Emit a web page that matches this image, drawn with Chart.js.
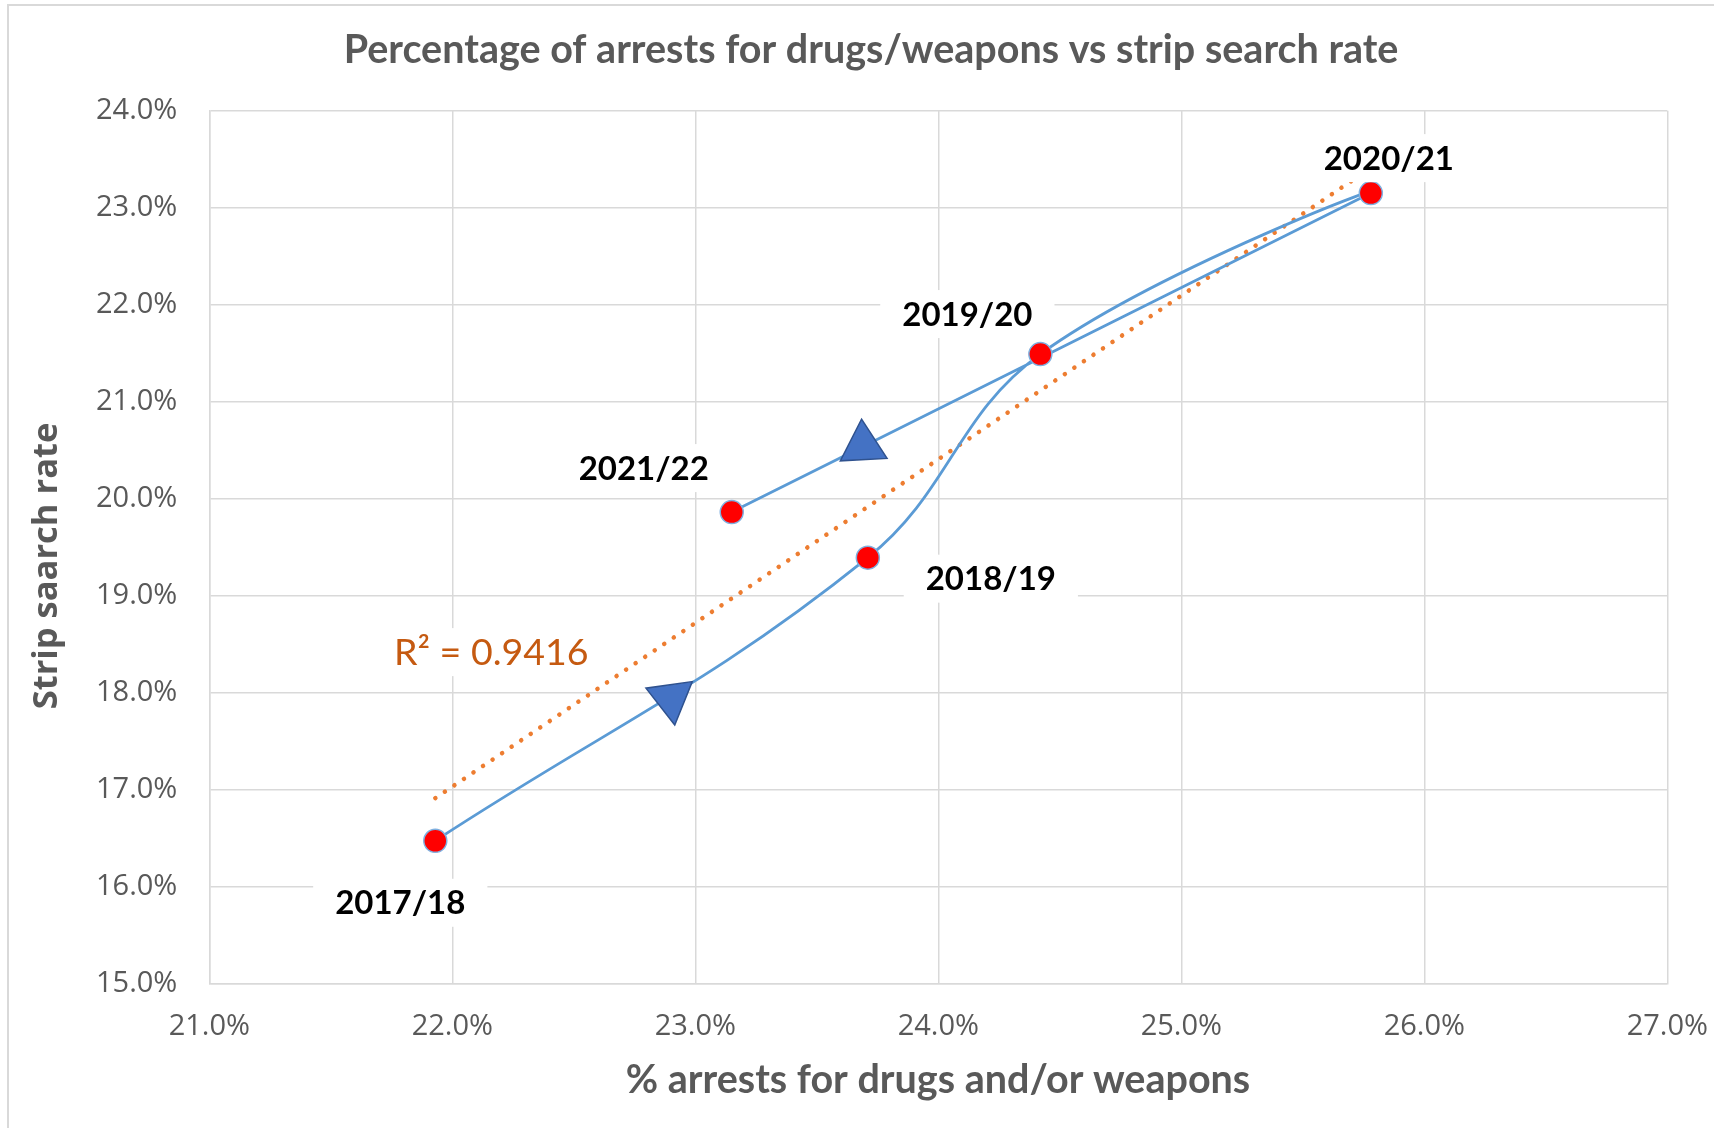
<!DOCTYPE html>
<html>
<head>
<meta charset="utf-8">
<script src="https://cdn.jsdelivr.net/npm/chart.js@4.4.0/dist/chart.umd.min.js"></script>
<style>
  html, body { margin: 0; padding: 0; background: #fff; }
  #wrap { width: 1714px; height: 1128px; }
</style>
</head>
<body>
<div id="wrap"><canvas id="chart" width="1714" height="1128"></canvas></div>
<script>
// data
const years = ['2017/18', '2018/19', '2019/20', '2020/21', '2021/22'];
const arrestPct = [21.93, 23.71, 24.42, 25.78, 23.15];   // % arrests for drugs and/or weapons
const stripPct = [16.47, 19.39, 21.49, 23.15, 19.86];    // strip search rate
const trendX = [21.93, 25.78];
const trendY = [16.91, 23.41];
const rSquared = '0.9416';
// direction arrows drawn on the path
const arrowX = [22.90, 23.69];
const arrowY = [17.94, 20.54];
const arrowRot = [172, -3];
const xTicks = [21, 22, 23, 24, 25, 26, 27];
const yTicks = [15, 16, 17, 18, 19, 20, 21, 22, 23, 24];

// label placement, px from the point
const labelOffsets = [[-35, 62], [123, 21], [-73, -40], [18, -35], [-88, -44]];

const GREY = '#595959';
const GRID = '#D9D9D9';

const pts = arrestPct.map((x, i) => ({ x: x, y: stripPct[i] }));

const textPlugin = {
    id: 'textPlugin',
    beforeDraw(chart) {
        const ctx = chart.ctx;
        ctx.save();
        ctx.fillStyle = '#fff';
        ctx.fillRect(0, 0, chart.width, chart.height);
        ctx.strokeStyle = GRID;
        ctx.lineWidth = 2;
        ctx.beginPath();
        ctx.moveTo(8, chart.height + 5);
        ctx.lineTo(8, 5);
        ctx.lineTo(chart.width + 5, 5);
        ctx.stroke();
        ctx.restore();
    },
    afterDatasetsDraw(chart) {
        const ctx = chart.ctx;
        const xs = chart.scales.x, ys = chart.scales.y;
        ctx.save();
        ctx.textAlign = 'center';
        ctx.textBaseline = 'middle';
        ctx.font = 'bold 33px Lato';
        years.forEach((lbl, i) => {
            const px = xs.getPixelForValue(arrestPct[i]) + labelOffsets[i][0];
            const py = ys.getPixelForValue(stripPct[i]) + labelOffsets[i][1];
            const w = ctx.measureText(lbl).width;
            ctx.fillStyle = '#fff';
            ctx.fillRect(px - w / 2 - 22, py - 24, w + 44, 48);
            ctx.fillStyle = '#000';
            ctx.fillText(lbl, px, py + 1);
        });
        // R squared
        const rx = xs.getPixelForValue(trendX[0]) + 56;
        const ry = ys.getPixelForValue(trendY[0]) - 146;
        ctx.font = '37.5px Lato';
        const rText = 'R² = ' + rSquared;
        const rw = ctx.measureText(rText).width;
        ctx.fillStyle = '#fff';
        ctx.fillRect(rx - rw / 2 - 12, ry - 24, rw + 24, 48);
        ctx.fillStyle = '#C55A11';
        ctx.fillText(rText, rx, ry + 1);
        ctx.restore();
    },
    afterDraw(chart) {
        const ctx = chart.ctx;
        ctx.save();
        ctx.fillStyle = GREY;
        ctx.textAlign = 'center';
        ctx.textBaseline = 'middle';
        ctx.font = 'bold 39.5px Lato';
        ctx.fillText('Percentage of arrests for drugs/weapons vs strip search rate', 871, 50);
        ctx.fillText('% arrests for drugs and/or weapons', 938, 1080);
        ctx.translate(47, 566);
        ctx.rotate(-Math.PI / 2);
        ctx.font = 'bold 34.5px "Open Sans"';
        ctx.fillText('Strip saarch rate', 0, 0);
        ctx.restore();
    }
};

new Chart(document.getElementById('chart'), {
    type: 'scatter',
    data: {
        datasets: [
            {
                label: 'Direction',
                data: arrowX.map((x, i) => ({ x: x, y: arrowY[i] })),
                pointStyle: 'triangle',
                rotation: arrowRot,
                pointRadius: 27,
                backgroundColor: '#4472C4',
                borderColor: '#2F528F',
                borderWidth: 1.5,
                showLine: false,
                order: 0
            },
            {
                label: 'Strip search rate',
                data: pts,
                showLine: true,
                tension: 0.4,
                borderColor: '#5B9BD5',
                borderWidth: 2.8,
                pointRadius: 11.5,
                pointBackgroundColor: '#FF0000',
                pointBorderColor: '#7FB0E0',
                pointBorderWidth: 1.5,
                order: 1
            },
            {
                label: 'Trend',
                data: trendX.map((x, i) => ({ x: x, y: trendY[i] })),
                showLine: true,
                borderColor: '#ED7D31',
                borderWidth: 4.5,
                borderDash: [0.1, 11.4],
                borderCapStyle: 'round',
                pointRadius: 0,
                order: 2
            }
        ]
    },
    options: {
        responsive: false,
        animation: false,
        devicePixelRatio: 1,
        events: [],
        layout: { padding: { top: 110.7, right: 46.7, left: 0, bottom: 0 } },
        plugins: {
            legend: { display: false },
            title: { display: false },
            tooltip: { enabled: false }
        },
        scales: {
            x: {
                type: 'linear',
                min: 21, max: 27,
                afterBuildTicks: s => { s.ticks = xTicks.map(v => ({ value: v })); },
                afterFit: s => { s.height = 144.7; s.paddingLeft = 0; s.paddingRight = 0; },
                ticks: {
                    padding: 26,
                    color: GREY,
                    font: { family: 'Open Sans', size: 29 },
                    callback: v => v.toFixed(1) + '%'
                },
                grid: { color: GRID, lineWidth: 1.5, drawTicks: false },
                border: { color: GRID, width: 1.5 }
            },
            y: {
                type: 'linear',
                min: 15, max: 24,
                afterBuildTicks: s => { s.ticks = yTicks.map(v => ({ value: v })); },
                afterFit: s => { s.width = 209.3; s.paddingTop = 0; s.paddingBottom = 0; },
                ticks: {
                    padding: 32,
                    color: GREY,
                    font: { family: 'Open Sans', size: 29 },
                    callback: v => v.toFixed(1) + '%'
                },
                grid: { color: GRID, lineWidth: 1.5, drawTicks: false },
                border: { color: GRID, width: 1.5 }
            }
        }
    },
    plugins: [textPlugin]
});
</script>
</body>
</html>
